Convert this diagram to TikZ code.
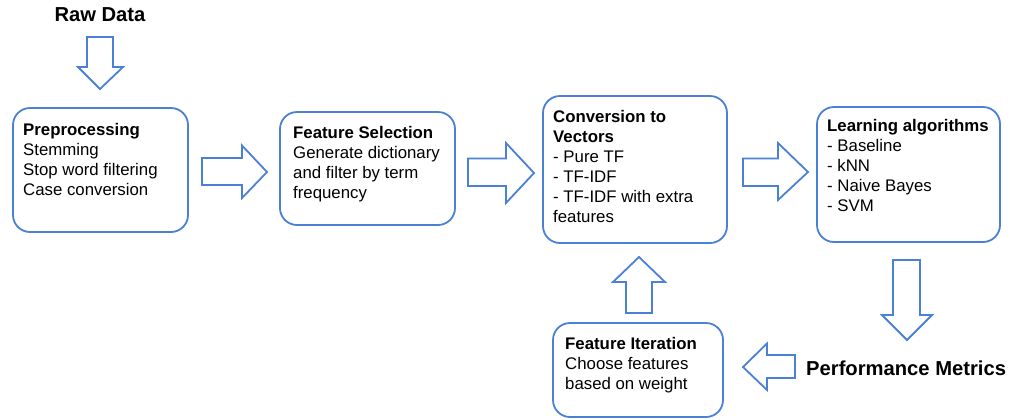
\documentclass[tikz,border=0pt]{standalone}
\usepackage{fontspec}
\setmainfont{Liberation Sans}
\definecolor{lineblue}{RGB}{74,128,214}
\begin{document}
\begin{tikzpicture}[x=1bp,y=-1bp,
  box/.style={draw=lineblue,line width=1.8bp,rounded corners=17bp,inner sep=0pt},
  boxtext/.style={anchor=north west,inner sep=0pt,align=left,font=\fontsize{16.8bp}{20bp}\selectfont},
  bigtext/.style={inner sep=0pt,font=\fontsize{20.2bp}{24bp}\selectfont\bfseries},
  blockarrow/.style={draw=lineblue,line width=1.8bp,fill=white,line join=miter}]
\useasboundingbox (0,0) rectangle (1010,419);

% boxes
\node[box,minimum width=175bp,minimum height=124bp] (prep) at (100.5,170) {};
\node[box,minimum width=175bp,minimum height=113bp] (fsel) at (367.5,168.5) {};
\node[box,minimum width=184bp,minimum height=147bp] (conv) at (635,169.5) {};
\node[box,minimum width=183bp,minimum height=135bp] (learn) at (908.5,174.5) {};
\node[box,minimum width=170bp,minimum height=94bp] (iter) at (638,370) {};

% texts
\node[bigtext] (raw) at (100,15) {Raw Data};
\node[bigtext,anchor=west] (perf) at (806,368) {Performance Metrics};

\node[boxtext] (prept) at (23,123) {\textbf{Preprocessing}\\Stemming\\Stop word filtering\\Case conversion};
\node[boxtext] (fselt) at (293,126.5) {\textbf{Feature Selection}\\Generate dictionary\\and filter by term\\frequency};
\node[boxtext] (convt) at (553,110.5) {\textbf{Conversion to}\\\textbf{Vectors}\\- Pure TF\\- TF-IDF\\- TF-IDF with extra\\features};
\node[boxtext] (learnt) at (827,119.5) {\textbf{Learning algorithms}\\- Baseline\\- kNN\\- Naive Bayes\\- SVM};
\node[boxtext] (itert) at (565,337.5) {\textbf{Feature Iteration}\\Choose features\\based on weight};

% block arrows
% raw data -> preprocessing (down)
\draw[blockarrow] (87,37) -- (113,37) -- (113,67) -- (123,67) -- (100,89) -- (78,67) -- (87,67) -- cycle;
% preprocessing -> feature selection
\draw[blockarrow] (202,158) -- (242,158) -- (242,145.5) -- (267,172) -- (242,198) -- (242,185) -- (202,185) -- cycle;
% feature selection -> conversion
\draw[blockarrow] (468,158.5) -- (506,158.5) -- (506,143) -- (534,173) -- (506,203) -- (506,186) -- (468,186) -- cycle;
% conversion -> learning
\draw[blockarrow] (743,158.5) -- (778,158.5) -- (778,143) -- (808,172) -- (778,200) -- (778,186) -- (743,186) -- cycle;
% learning -> performance (down)
\draw[blockarrow] (893,260) -- (920,260) -- (920,315) -- (932,315) -- (907,340) -- (882,315) -- (893,315) -- cycle;
% performance -> iteration (left)
\draw[blockarrow] (795,355) -- (795,378) -- (767,378) -- (767,390) -- (743,367) -- (767,343.5) -- (767,355) -- cycle;
% iteration -> conversion (up)
\draw[blockarrow] (626,313) -- (652,313) -- (652,282) -- (665,282) -- (639,257) -- (613,282) -- (626,282) -- cycle;
\end{tikzpicture}
\end{document}
